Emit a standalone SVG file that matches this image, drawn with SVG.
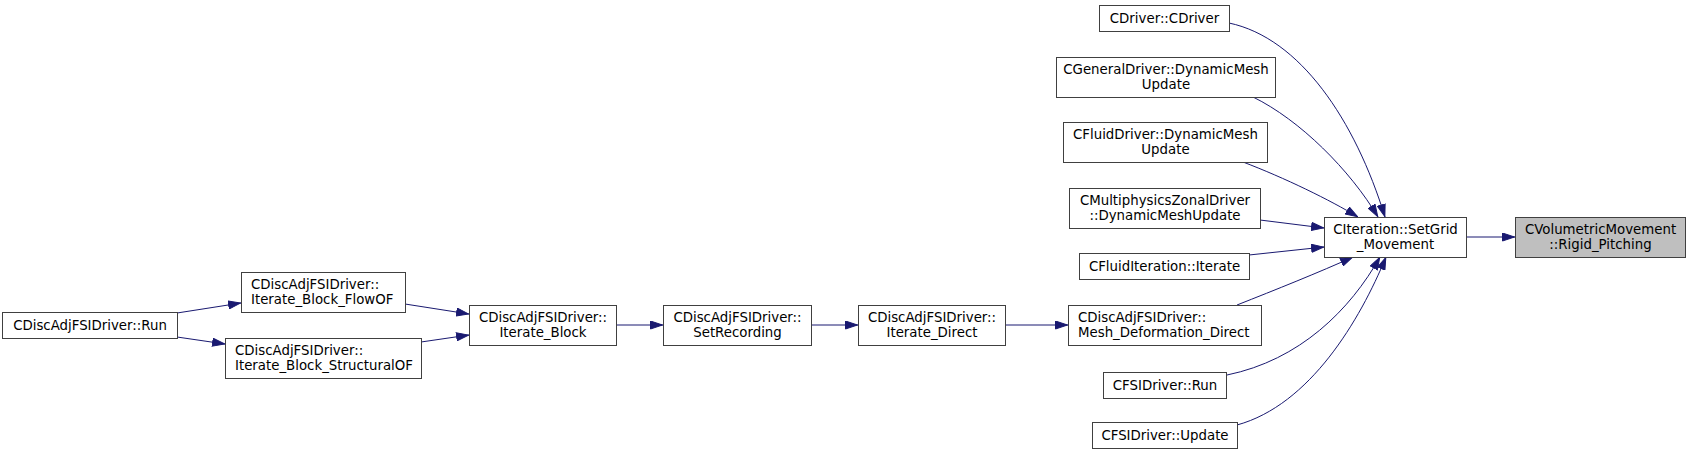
<svg xmlns="http://www.w3.org/2000/svg" width="1691" height="453" viewBox="0 0 1691 453">
<style>
.box{fill:#ffffff;stroke:#404040;stroke-width:1}
.hl{fill:#bfbfbf;stroke:#404040;stroke-width:1}
text{font-family:"DejaVu Sans",sans-serif;font-size:13.33px;fill:#000000}
.c{text-anchor:middle}
.l{text-anchor:start}
.e{fill:none;stroke:#191970;stroke-width:1}
</style>
<defs>
<marker id="arr" viewBox="0 0 13 9" refX="13" refY="4.5" markerWidth="13" markerHeight="9" markerUnits="userSpaceOnUse" orient="auto">
<path d="M0.5,0.5 L12.5,4.5 L0.5,8.5 z" fill="#191970" stroke="#191970" stroke-width="1"/>
</marker>
</defs>
<rect width="1691" height="453" fill="#ffffff"/>
<g id="edges">
<path class="e" marker-end="url(#arr)" d="M177,313 L241,303"/>
<path class="e" marker-end="url(#arr)" d="M177,337 L225,344"/>
<path class="e" marker-end="url(#arr)" d="M405,304 L469,314"/>
<path class="e" marker-end="url(#arr)" d="M421,342 L469,335"/>
<path class="e" marker-end="url(#arr)" d="M616,325 L663,325"/>
<path class="e" marker-end="url(#arr)" d="M811,325 L858,325"/>
<path class="e" marker-end="url(#arr)" d="M1005,325 L1068,325"/>
<path class="e" marker-end="url(#arr)" d="M1229,23 C1300,38 1355,120 1385,217"/>
<path class="e" marker-end="url(#arr)" d="M1253,97 C1300,120 1350,170 1378,217"/>
<path class="e" marker-end="url(#arr)" d="M1243,162 C1285,178 1330,200 1358,217"/>
<path class="e" marker-end="url(#arr)" d="M1260,220 L1324,228"/>
<path class="e" marker-end="url(#arr)" d="M1249,255 L1324,247"/>
<path class="e" marker-end="url(#arr)" d="M1237,305 C1275,290 1320,272 1353,257"/>
<path class="e" marker-end="url(#arr)" d="M1227,375 C1300,360 1350,310 1380,257"/>
<path class="e" marker-end="url(#arr)" d="M1237,425 C1310,405 1360,320 1386,257"/>
<path class="e" marker-end="url(#arr)" d="M1466,237 L1515,237"/>
</g>
<g id="n_run"><rect class="box" x="2.5" y="312.5" width="175" height="26"/><text class="c" x="90" y="329.5">CDiscAdjFSIDriver::Run</text></g>
<g id="n_flow"><rect class="box" x="241.5" y="272.5" width="164" height="40"/><text class="l" x="251" y="289">CDiscAdjFSIDriver::</text><text class="l" x="251" y="304">Iterate_Block_FlowOF</text></g>
<g id="n_struct"><rect class="box" x="225.5" y="338.5" width="196" height="40"/><text class="l" x="235" y="355">CDiscAdjFSIDriver::</text><text class="l" x="235" y="370">Iterate_Block_StructuralOF</text></g>
<g id="n_iblock"><rect class="box" x="469.5" y="305.5" width="147" height="40"/><text class="c" x="543" y="322">CDiscAdjFSIDriver::</text><text class="c" x="543" y="337">Iterate_Block</text></g>
<g id="n_setrec"><rect class="box" x="663.5" y="305.5" width="148" height="40"/><text class="c" x="737.5" y="322">CDiscAdjFSIDriver::</text><text class="c" x="737.5" y="337">SetRecording</text></g>
<g id="n_idirect"><rect class="box" x="858.5" y="305.5" width="147" height="40"/><text class="c" x="932" y="322">CDiscAdjFSIDriver::</text><text class="c" x="932" y="337">Iterate_Direct</text></g>
<g id="n_mesh"><rect class="box" x="1068.5" y="305.5" width="193" height="40"/><text class="l" x="1078" y="322">CDiscAdjFSIDriver::</text><text class="l" x="1078" y="337">Mesh_Deformation_Direct</text></g>
<g id="n_cdriver"><rect class="box" x="1099.5" y="5.5" width="130" height="26"/><text class="c" x="1164.5" y="22.5">CDriver::CDriver</text></g>
<g id="n_general"><rect class="box" x="1056.5" y="57.5" width="219" height="40"/><text class="c" x="1166" y="74">CGeneralDriver::DynamicMesh</text><text class="c" x="1166" y="89">Update</text></g>
<g id="n_fluid"><rect class="box" x="1063.5" y="122.5" width="204" height="40"/><text class="c" x="1165.5" y="139">CFluidDriver::DynamicMesh</text><text class="c" x="1165.5" y="154">Update</text></g>
<g id="n_multi"><rect class="box" x="1069.5" y="188.5" width="191" height="40"/><text class="c" x="1165" y="205">CMultiphysicsZonalDriver</text><text class="c" x="1165" y="220">::DynamicMeshUpdate</text></g>
<g id="n_fiter"><rect class="box" x="1079.5" y="253.5" width="170" height="26"/><text class="c" x="1164.5" y="270.5">CFluidIteration::Iterate</text></g>
<g id="n_fsirun"><rect class="box" x="1103.5" y="372.5" width="123" height="26"/><text class="c" x="1165" y="389.5">CFSIDriver::Run</text></g>
<g id="n_fsiupd"><rect class="box" x="1092.5" y="422.5" width="145" height="26"/><text class="c" x="1165" y="439.5">CFSIDriver::Update</text></g>
<g id="n_iter"><rect class="box" x="1324.5" y="217.5" width="142" height="40"/><text class="c" x="1395.5" y="234">CIteration::SetGrid</text><text class="c" x="1395.5" y="249">_Movement</text></g>
<g id="n_vol"><rect class="hl" x="1515.5" y="217.5" width="170" height="40"/><text class="c" x="1600.5" y="234">CVolumetricMovement</text><text class="c" x="1600.5" y="249">::Rigid_Pitching</text></g>
</svg>
